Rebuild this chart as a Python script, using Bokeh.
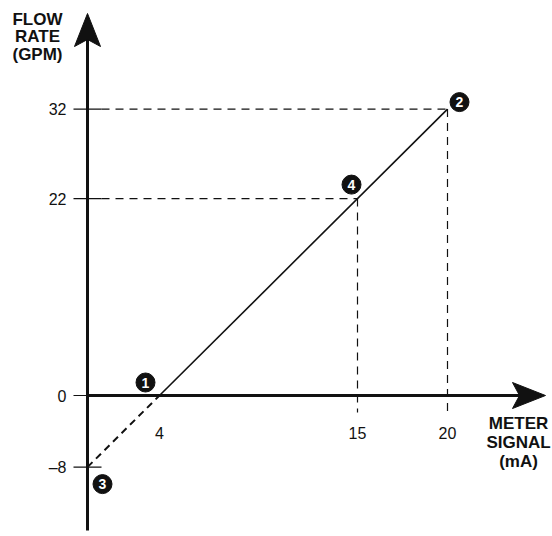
from bokeh.plotting import figure
from bokeh.models import Range1d
from bokeh.core.properties import value
from bokeh.embed import file_html
from bokeh.resources import INLINE

# ---- data ----
point_labels = ["1", "2", "3", "4"]
point_signal = [4, 20, 0, 15]        # mA
point_flow = [0, 32, -8, 22]         # GPM
y_ticks = [32, 22, 0, -8]
y_tick_labels = ["32", "22", "0", "\u20138"]
x_ticks = [4, 15, 20]
x_tick_labels = ["4", "15", "20"]
y_title = ["FLOW", "RATE", "(GPM)"]
x_title = ["METER", "SIGNAL", "(mA)"]

# ---- geometry (pixels per unit) ----
W, H = 552, 536
PX_X = 18.0
PX_Y = 8.95
X0_PX, Y0_PX = 87, 395   # frame position of the origin
x_start = -X0_PX / PX_X
x_end = (W - X0_PX) / PX_X
y_end = Y0_PX / PX_Y
y_start = -(H - Y0_PX) / PX_Y

def dx(px):
    return px / PX_X

def dy(px):  # screen pixels downward -> data units
    return -px / PX_Y

p = figure(width=W, height=H, output_backend="svg", toolbar_location=None,
           x_range=Range1d(x_start, x_end), y_range=Range1d(y_start, y_end),
           x_axis_location=None, y_axis_location=None, min_border=0)
p.grid.visible = False
p.outline_line_color = None
p.background_fill_color = "white"

ink = "#111111"

# axes lines
x_tip = dx(458)
y_tip = y_end + dy(13)
p.segment(x0=[0], y0=[y_start + dy(-6)], x1=[0], y1=[y_tip + dy(20)], line_color=ink, line_width=3)
p.segment(x0=[0], y0=[0], x1=[x_tip - dx(20)], y1=[0], line_color=ink, line_width=3)

# arrowheads (computed from axis ends)
L, Wd, N = 33, 13, 7
p.patch(x=[0, dx(-Wd), 0, dx(Wd)],
        y=[y_tip, y_tip + dy(L), y_tip + dy(L - N), y_tip + dy(L)],
        color=ink, line_width=1)
p.patch(x=[x_tip, x_tip - dx(L), x_tip - dx(L - N), x_tip - dx(L)],
        y=[0, dy(-Wd), 0, dy(Wd)],
        color=ink, line_width=1)

# y tick marks
p.segment(x0=[dx(-14)] * len(y_ticks), y0=y_ticks, x1=[dx(14)] * len(y_ticks), y1=y_ticks,
          line_color=ink, line_width=1.2)

# transfer line: solid from point 1 to point 2, dashed from point 3 to point 1
p.line(x=[point_signal[0], point_signal[1]], y=[point_flow[0], point_flow[1]],
       line_color=ink, line_width=1.6)
p.line(x=[point_signal[2], point_signal[0]], y=[point_flow[2], point_flow[0]],
       line_color=ink, line_width=2, line_dash="7 5")

# guide lines for points 2 and 4
for i in (1, 3):
    p.line(x=[dx(14), point_signal[i]], y=[point_flow[i], point_flow[i]],
           line_color=ink, line_width=1.2, line_dash="8 6")
    p.line(x=[point_signal[i], point_signal[i]], y=[point_flow[i], dy(17)],
           line_color=ink, line_width=1.2, line_dash="8 6")

# tick labels
tick_font = value("Liberation Sans")
p.text(x=[dx(-21)] * len(y_ticks), y=y_ticks, text=y_tick_labels,
       text_align="right", text_baseline="middle", text_font=tick_font,
       text_font_size="16px", text_color=ink)
p.text(x=x_ticks, y=[dy(37)] * len(x_ticks), text=x_tick_labels,
       text_align="center", text_baseline="middle", text_font=tick_font,
       text_font_size="16px", text_color=ink)

# axis titles
title_font = value("Liberation Sans")
p.text(x=[dx(-50)] * 3, y=[y_end + dy(19), y_end + dy(36), y_end + dy(54)], text=y_title,
       text_align="center", text_baseline="middle", text_font=title_font,
       text_font_size="17px", text_font_style="bold", text_color=ink)
p.text(x=[dx(431)] * 3, y=[dy(28), dy(47), dy(66)], text=x_title,
       text_align="center", text_baseline="middle", text_font=title_font,
       text_font_size="17px", text_font_style="bold", text_color=ink)

# numbered point markers
offs = [(-14, -13), (12, -7), (15, 17), (-6, -14)]
mx = [point_signal[i] + dx(offs[i][0]) for i in range(4)]
my = [point_flow[i] + dy(offs[i][1]) for i in range(4)]
p.scatter(x=mx, y=my, size=19, color=ink)
p.text(x=mx, y=my, text=point_labels, text_align="center", text_baseline="middle",
       text_font=title_font, text_font_size="14px", text_font_style="bold",
       text_color="white")

open("out.html", "w").write(file_html(p, INLINE))
